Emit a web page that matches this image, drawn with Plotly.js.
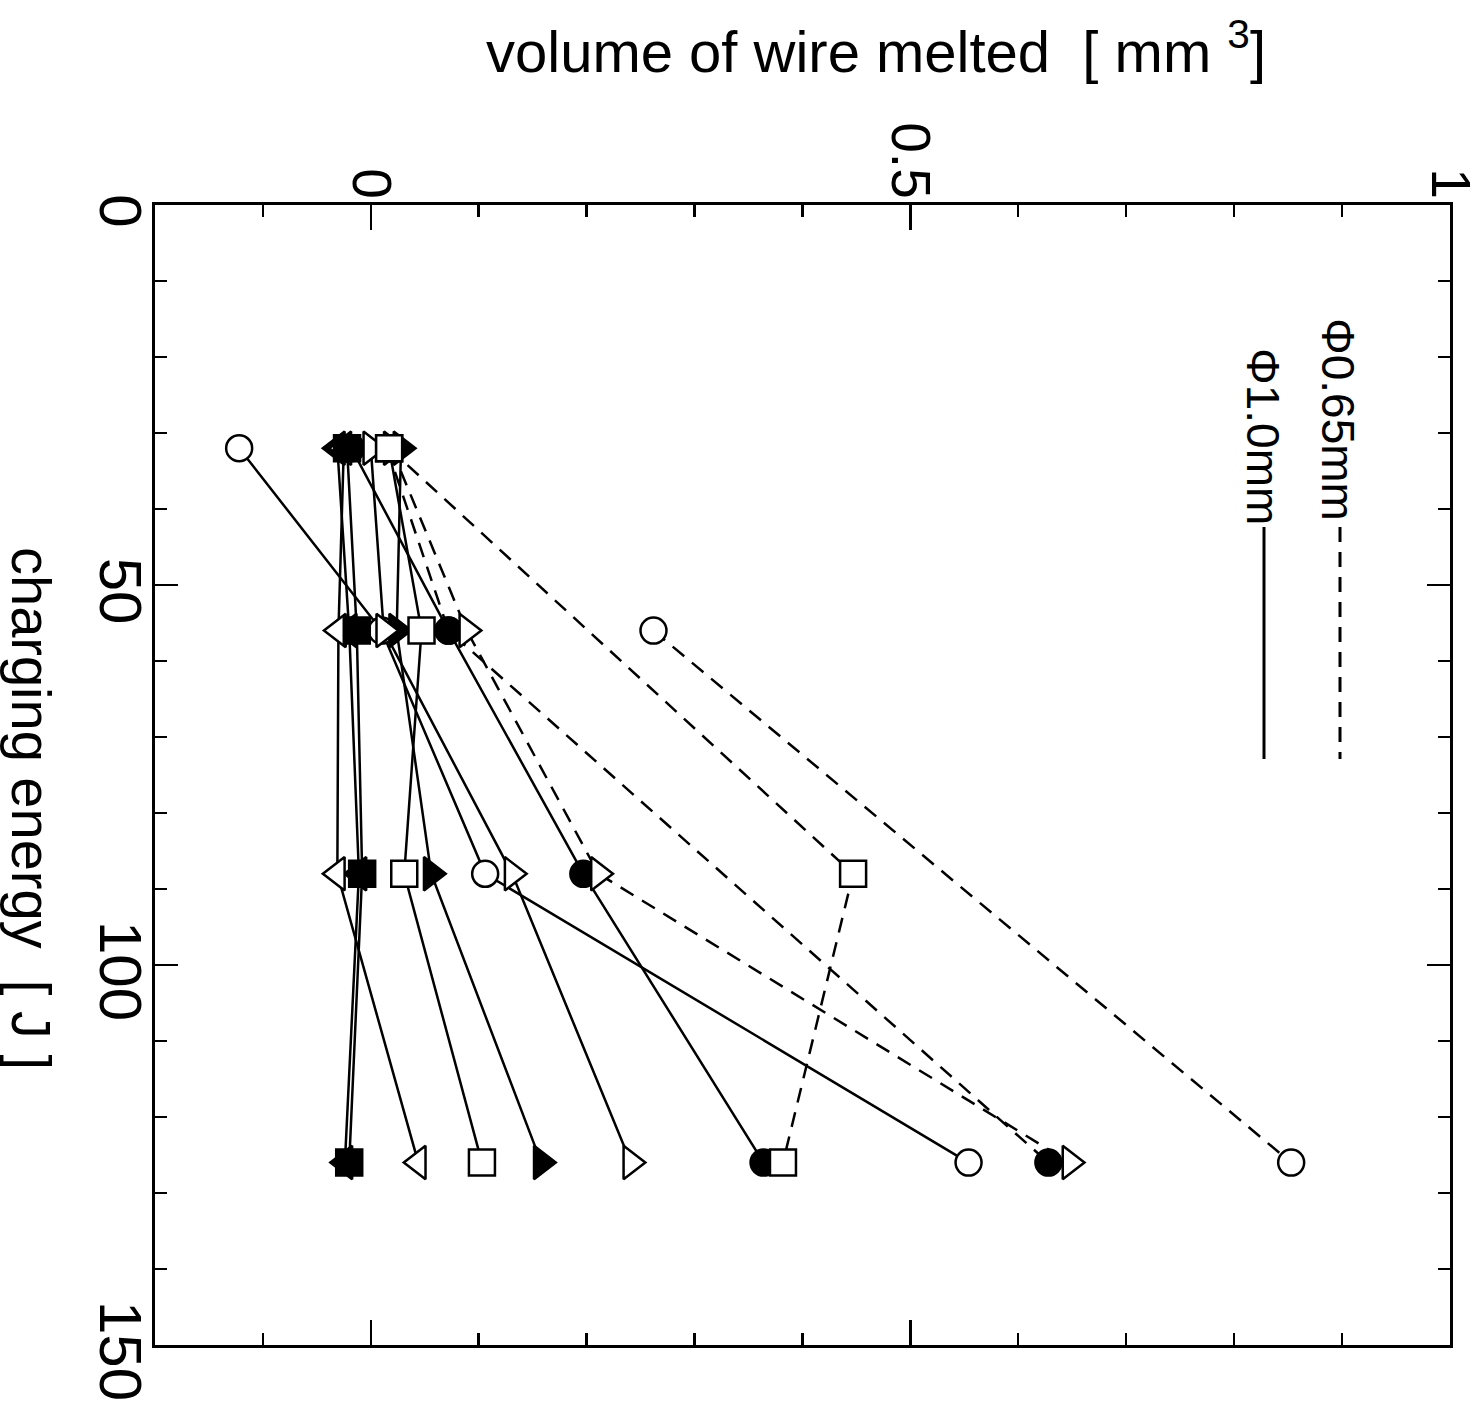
<!DOCTYPE html>
<html>
<head>
<meta charset="utf-8">
<script src="https://cdn.plot.ly/plotly-3.0.1.min.js"></script>
<style>
  html, body { margin: 0; padding: 0; background: #ffffff; }
  #chart { width: 1483px; height: 1419px; }
</style>
</head>
<body>
<div id="chart"></div>
<script>
// Charging energy of each shot [J]
const energyJ = [32, 56, 88, 126];

// Volume of wire melted [mm^3], Φ1.0 mm wire (solid lines)
const d10OpenCircle   = [-0.122, 0.010, 0.106, 0.554];
const d10FilledCircle = [-0.018, 0.072, 0.197, 0.364];
const d10OpenSquare   = [0.017, 0.047, 0.031, 0.103];
const d10FilledSquare = [-0.022, -0.013, -0.008, -0.020];
const d10OpenTriR     = [0.000, 0.012, 0.131, 0.241];
const d10FilledTriR   = [0.028, 0.024, 0.056, 0.158];
const d10OpenTriL     = [-0.025, -0.030, -0.031, 0.044];
const d10FilledTriL   = [-0.031, -0.020, -0.011, -0.024];

// Volume of wire melted [mm^3], Φ0.65 mm wire (dashed lines); null = no shot
const d065OpenCircle   = [null, 0.262, null, 0.853];
const d065OpenSquare   = [0.017, null, 0.447, 0.382];
const d065FilledCircle = [0.015, 0.072, null, 0.628];
const d065OpenTriR     = [0.019, 0.089, 0.211, 0.648];

// Axis ticks
const volumeTicks = [0, 0.5, 1];
const volumeTickText = ['0', '0.5', '1'];
const energyTicks = [0, 50, 100, 150];
const energyTickText = ['0', '50', '100', '150'];

// Legend labels
const legendThin = 'Φ0.65mm';
const legendThick = 'Φ1.0mm';

const FONT = 'Liberation Sans, Arial, Helvetica, sans-serif';
const DASH = '15px,10px';

// listed in drawing order of the markers (later ones on top)
const series = [
  { v: d065FilledCircle, symbol: 'circle',         filled: true,  dash: DASH },
  { v: d10FilledCircle,  symbol: 'circle',         filled: true,  dash: 'solid' },
  { v: d10OpenCircle,    symbol: 'circle',         filled: false, dash: 'solid' },
  { v: d065OpenTriR,     symbol: 'triangle-right', filled: false, dash: DASH },
  { v: d10FilledTriL,    symbol: 'triangle-left',  filled: true,  dash: 'solid' },
  { v: d10OpenTriL,      symbol: 'triangle-left',  filled: false, dash: 'solid' },
  { v: d10FilledSquare,  symbol: 'square',         filled: true,  dash: 'solid' },
  { v: d10FilledTriR,    symbol: 'triangle-right', filled: true,  dash: 'solid' },
  { v: d10OpenTriR,      symbol: 'triangle-right', filled: false, dash: 'solid' },
  { v: d10OpenSquare,    symbol: 'square',         filled: false, dash: 'solid' },
  { v: d065OpenSquare,   symbol: 'square',         filled: false, dash: DASH },
  { v: d065OpenCircle,   symbol: 'circle',         filled: false, dash: DASH }
];

const markerSize = { 'circle': 26, 'square': 26, 'triangle-right': 29, 'triangle-left': 29 };

// connecting lines first, so every marker sits on top of all lines
const lineTraces = series.map(s => ({
  type: 'scatter', mode: 'lines',
  x: s.v, y: energyJ, connectgaps: true,
  line: { color: '#000', width: 2.5, dash: s.dash },
  hoverinfo: 'skip'
}));
const markerTraces = series.map(s => ({
  type: 'scatter', mode: 'markers',
  x: s.v, y: energyJ,
  marker: {
    symbol: s.symbol, size: markerSize[s.symbol],
    color: s.filled ? '#000' : '#fff',
    line: { color: '#000', width: 2.5 }
  }
}));

// plot area in pixels: left 155, right 1450, top 205, bottom 1345
const W = 1295, H = 1140;
const px = x => (x - 155) / W;
const py = y => (1345 - y) / H;

const layout = {
  width: 1483, height: 1419,
  margin: { l: 155, r: 33, t: 205, b: 74, pad: 0 },
  paper_bgcolor: '#fff', plot_bgcolor: '#fff',
  showlegend: false,
  font: { family: FONT, color: '#000' },
  xaxis: {
    range: [-0.2, 1.0002], side: 'top',
    tickmode: 'array', tickvals: volumeTicks, ticktext: volumeTickText,
    ticks: 'inside', ticklen: 25, tickwidth: 2.5, tickcolor: '#000',
    minor: { tickmode: 'linear', tick0: 0, dtick: 0.1, ticks: 'inside', ticklen: 12, tickwidth: 2.5, tickcolor: '#000', showgrid: false },
    tickangle: 90, tickfont: { size: 55, family: FONT, color: '#000' },
    ticklabelstandoff: -16, ticklabeloverflow: 'allow',
    showline: true, linewidth: 3, linecolor: '#000', mirror: 'ticks',
    showgrid: false, zeroline: false
  },
  yaxis: {
    range: [150, 0],
    tickmode: 'array', tickvals: energyTicks, ticktext: energyTickText,
    ticks: 'inside', ticklen: 23, tickwidth: 2.5, tickcolor: '#000',
    minor: { tickmode: 'linear', tick0: 0, dtick: 10, ticks: 'inside', ticklen: 12, tickwidth: 2.5, tickcolor: '#000', showgrid: false },
    tickangle: 90, tickfont: { size: 60, family: FONT, color: '#000' },
    ticklabelstandoff: -20, ticklabelshift: -15, ticklabeloverflow: 'allow',
    showline: true, linewidth: 3, linecolor: '#000', mirror: 'ticks',
    showgrid: false, zeroline: false
  },
  annotations: [
    { text: 'volume of wire melted  [ mm <sup>3</sup>]', xref: 'paper', yref: 'paper',
      x: px(876), y: py(47), xanchor: 'center', yanchor: 'middle', showarrow: false,
      font: { size: 58, family: FONT, color: '#000' } },
    { text: 'charging energy  [ J ]', xref: 'paper', yref: 'paper',
      x: px(32), y: py(808), xanchor: 'center', yanchor: 'middle', showarrow: false,
      textangle: 90, font: { size: 56, family: FONT, color: '#000' } },
    { text: legendThin, xref: 'paper', yref: 'paper',
      x: px(1338), y: py(419), xanchor: 'center', yanchor: 'middle', showarrow: false,
      textangle: 90, font: { size: 46, family: FONT, color: '#000' } },
    { text: legendThick, xref: 'paper', yref: 'paper',
      x: px(1263), y: py(436), xanchor: 'center', yanchor: 'middle', showarrow: false,
      textangle: 90, font: { size: 46, family: FONT, color: '#000' } }
  ],
  shapes: [
    { type: 'line', xref: 'paper', yref: 'paper', x0: px(1340), x1: px(1340), y0: py(527), y1: py(759),
      line: { color: '#000', width: 3, dash: DASH } },
    { type: 'line', xref: 'paper', yref: 'paper', x0: px(1264), x1: px(1264), y0: py(527), y1: py(759),
      line: { color: '#000', width: 3 } }
  ]
};

Plotly.newPlot('chart', lineTraces.concat(markerTraces), layout, { displayModeBar: false, staticPlot: true });
</script>
</body>
</html>
